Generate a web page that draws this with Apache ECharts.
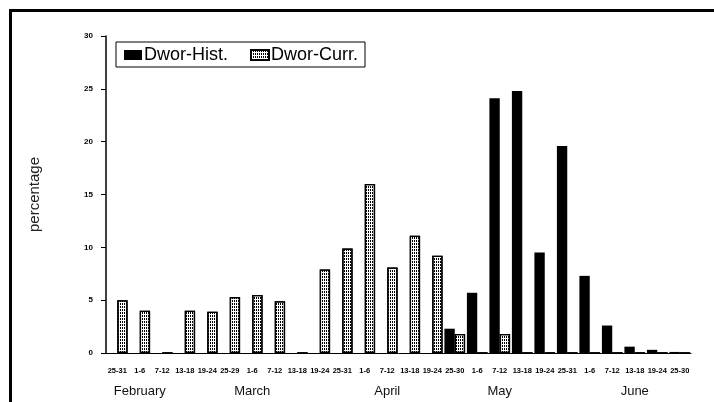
<!DOCTYPE html>
<html>
<head>
<meta charset="utf-8">
<script src="https://cdn.jsdelivr.net/npm/echarts@6/dist/echarts.min.js"></script>
<style>
  html, body { margin: 0; padding: 0; background: #fff; }
  #frame { position: absolute; left: 9px; top: 9px; width: 705px; height: 393px;
           border-top: 3px solid #000; border-left: 3px solid #000; box-sizing: border-box; }
  #chart { position: absolute; left: 0; top: 0; width: 714px; height: 402px; }
</style>
</head>
<body>
<div id="frame"></div>
<div id="chart"></div>
<script>
// week periods along the x axis
const periods = [
  '25-31', '1-6', '7-12', '13-18', '19-24',
  '25-29', '1-6', '7-12', '13-18', '19-24',
  '25-31', '1-6', '7-12', '13-18', '19-24',
  '25-30', '1-6', '7-12', '13-18', '19-24', '25-31',
  '1-6', '7-12', '13-18', '19-24', '25-30'
]
// month names, placed under one period each
const months = [
  '', 'February', '', '', '',
  '', 'March', '', '', '',
  '', '', 'April', '', '',
  '', '', 'May', '', '', '',
  '', '', 'June', '', ''
]
const histValues = [
  0, 0, 0, 0, 0,
  0, 0, 0, 0, 0,
  0, 0, 0, 0, 0,
  2.3, 5.7, 24.1, 24.8, 9.5, 19.6,
  7.3, 2.6, 0.6, 0.3, 0.1
]
const currValues = [
  5.0, 4.0, 0, 4.0, 3.9,
  5.3, 5.5, 4.9, 0, 7.9,
  9.9, 16.0, 8.1, 11.1, 9.2,
  1.8, 0, 1.8, 0, 0, 0,
  0, 0, 0, 0, 0
]

const chart = echarts.init(document.getElementById('chart'))
chart.setOption({
  animation: false,
  backgroundColor: 'transparent',
  textStyle: { fontFamily: 'Liberation Sans, Arial, sans-serif', color: '#000' },
  legend: {
    data: ['Dwor-Hist.', 'Dwor-Curr.'],
    left: 116,
    top: 42,
    icon: 'rect',
    itemWidth: 18,
    itemHeight: 10,
    itemGap: 22,
    padding: [4, 7, 3, 8],
    borderColor: '#000',
    borderWidth: 1,
    textStyle: { fontSize: 18, color: '#000', padding: [0, 0, 0, -3] }
  },
  grid: { left: 106, right: 23, top: 36, bottom: 49, containLabel: false },
  xAxis: [
    {
      type: 'category',
      data: periods,
      axisLine: { lineStyle: { color: '#000', width: 1 } },
      axisTick: { alignWithLabel: true, length: 7, lineStyle: { color: '#000' } },
      axisLabel: { interval: 0, fontSize: 7.5, fontWeight: 'bold', color: '#000', margin: 14 }
    },
    {
      type: 'category',
      position: 'bottom',
      offset: 24,
      data: months,
      axisLine: { show: false },
      axisTick: { show: false },
      axisLabel: { interval: 0, fontSize: 13, color: '#111', margin: 8 }
    }
  ],
  yAxis: {
    type: 'value',
    min: 0,
    max: 30,
    interval: 5,
    name: 'percentage',
    nameLocation: 'middle',
    nameGap: 64,
    nameTextStyle: { fontSize: 15, color: '#222' },
    splitLine: { show: false },
    axisLine: { show: true, lineStyle: { color: '#000', width: 1.5 } },
    axisTick: { show: true, length: 5, lineStyle: { color: '#000' } },
    axisLabel: { fontSize: 8, fontWeight: 'bold', color: '#000', margin: 13 }
  },
  series: [
    {
      name: 'Dwor-Hist.',
      type: 'bar',
      data: histValues,
      barGap: '0%',
      barCategoryGap: '8%',
      itemStyle: { color: '#000' }
    },
    {
      name: 'Dwor-Curr.',
      type: 'bar',
      data: currValues,
      barGap: '0%',
      barCategoryGap: '8%',
      itemStyle: {
        color: '#fff',
        borderColor: '#000',
        borderWidth: 1.3,
        decal: {
          symbol: 'rect',
          symbolSize: 1,
          dashArrayX: [1, 1],
          dashArrayY: [2, 1],
          color: '#000'
        }
      }
    }
  ]
})
</script>
</body>
</html>
